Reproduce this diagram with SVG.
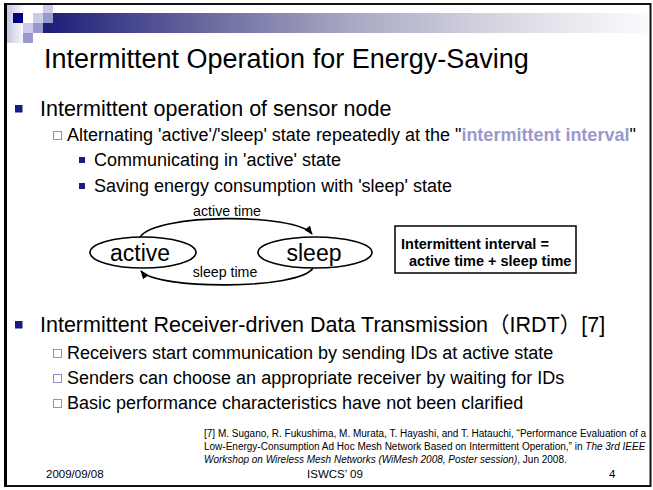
<svg xmlns="http://www.w3.org/2000/svg" width="653" height="490" viewBox="0 0 653 490">
<defs>
<linearGradient id="bar" x1="0" y1="0" x2="1" y2="0">
<stop offset="0" stop-color="#1c1c7a"/>
<stop offset="0.25" stop-color="#64649c"/>
<stop offset="0.5" stop-color="#a6a6c2"/>
<stop offset="0.75" stop-color="#d6d6e2"/>
<stop offset="1" stop-color="#fbfbfd"/>
</linearGradient>
<linearGradient id="side" x1="0" y1="0" x2="1" y2="0">
<stop offset="0" stop-color="#c4c4e0"/>
<stop offset="1" stop-color="#ffffff"/>
</linearGradient>
<marker id="arr" viewBox="0 0 10 8" refX="9" refY="4" markerWidth="9" markerHeight="7" orient="auto" markerUnits="userSpaceOnUse">
<path d="M0,0 L10,4 L0,8 z" fill="#000"/>
</marker>
<style>
text{font-family:"Liberation Sans",Arial,sans-serif;fill:#000}
.t{font-size:27px}
.l1{font-size:21.5px}
.l2{font-size:18px}
.l3{font-size:18px}
.b1{fill:#1a1a80}
.b2{fill:#fff;stroke:#9090c4;stroke-width:1}
.ref{font-size:10px}
.foot{font-size:11.5px}
.ell{fill:none;stroke:#000;stroke-width:1.6}
.arc{fill:none;stroke:#000;stroke-width:1.6}
.lbl{font-size:14.2px}
.big{font-size:23px}
.bx{font-size:14.5px;font-weight:bold}
</style>
</defs>
<rect x="0" y="0" width="653" height="490" fill="#fff"/>
<rect x="5" y="4" width="645.5" height="482" fill="none" stroke="#111" stroke-width="2"/>
<line x1="5.5" y1="3" x2="5.5" y2="487" stroke="#000" stroke-width="3"/>
<g id="header">
<rect x="7" y="5" width="18" height="38" fill="url(#side)"/>
<rect x="43" y="13" width="605" height="20" fill="url(#bar)"/>
<rect x="13" y="13" width="10" height="10" fill="#000080"/>
<rect x="33" y="13" width="10" height="10" fill="#ccccea"/>
<rect x="43" y="5" width="10" height="8" fill="#ccccea"/>
<rect x="43" y="13" width="10" height="10" fill="#9999cc"/>
<rect x="23" y="23" width="10" height="10" fill="#ccccea"/>
<rect x="33" y="23" width="10" height="10" fill="#9999cc"/>
<rect x="23" y="33" width="10" height="10" fill="#9999cc"/>
</g>
<text class="t" x="44" y="68">Intermittent Operation for Energy-Saving</text>
<g id="bullets">
<rect class="b1" x="15" y="105" width="7.5" height="7.5"/>
<text class="l1" x="40" y="116">Intermittent operation of sensor node</text>
<rect class="b2" x="53.5" y="131.5" width="8" height="8"/>
<text class="l2" x="67" y="141">Alternating 'active'/'sleep' state repeatedly at the "<tspan font-weight="bold" fill="#9999cc">intermittent interval</tspan>"</text>
<rect class="b1" x="79" y="157" width="6" height="6"/>
<text class="l3" x="94" y="166">Communicating in 'active' state</text>
<rect class="b1" x="79" y="183" width="6" height="6"/>
<text class="l3" x="94" y="192">Saving energy consumption with 'sleep' state</text>
<rect class="b1" x="15" y="321" width="7.5" height="7.5"/>
<text class="l1" x="40" y="332">Intermittent Receiver-driven Data Transmission<tspan font-family="'Noto Sans CJK JP',sans-serif">（</tspan>IRDT<tspan font-family="'Noto Sans CJK JP',sans-serif">）</tspan>[7]</text>
<rect class="b2" x="53.5" y="349.5" width="8" height="8"/>
<text class="l2" x="67" y="359">Receivers start communication by sending IDs at active state</text>
<rect class="b2" x="53.5" y="374.5" width="8" height="8"/>
<text class="l2" x="67" y="384">Senders can choose an appropriate receiver by waiting for IDs</text>
<rect class="b2" x="53.5" y="399.5" width="8" height="8"/>
<text class="l2" x="67" y="409">Basic performance characteristics have not been clarified</text>
</g>
<g id="connectors">
<path class="arc" d="M140,237 C156,213 296,213 312,234" marker-end="url(#arr)"/>
<path class="arc" d="M313,268 C300,290 156,290 141,271" marker-end="url(#arr)"/>
</g>
<g id="node-active">
<ellipse class="ell" cx="143" cy="252.5" rx="53" ry="15.5"/>
<text class="big" x="140" y="261" text-anchor="middle">active</text>
</g>
<g id="node-sleep">
<ellipse class="ell" cx="315" cy="252.5" rx="57" ry="15.5"/>
<text class="big" x="314" y="261" text-anchor="middle">sleep</text>
</g>
<text class="lbl" x="227" y="216" text-anchor="middle">active time</text>
<text class="lbl" x="225" y="277" text-anchor="middle">sleep time</text>
<g id="box">
<rect x="395" y="226" width="181" height="47" fill="#fff" stroke="#000" stroke-width="1.5"/>
<text class="bx" x="401" y="249">Intermittent interval =</text>
<text class="bx" x="409" y="266">active time + sleep time</text>
</g>
<g id="reference">
<text class="ref" x="204" y="437">[7] M. Sugano, R. Fukushima, M. Murata, T. Hayashi, and T. Hatauchi, “Performance Evaluation of a</text>
<text class="ref" x="204" y="450">Low-Energy-Consumption Ad Hoc Mesh Network Based on Intermittent Operation,” in <tspan font-style="italic">The 3rd IEEE</tspan></text>
<text class="ref" x="204" y="463"><tspan font-style="italic">Workshop on Wireless Mesh Networks (WiMesh 2008, Poster session)</tspan>, Jun 2008.</text>
</g>
<g id="footer">
<text class="foot" x="46" y="478">2009/09/08</text>
<text class="foot" x="335" y="478" text-anchor="middle">ISWCS’ 09</text>
<text class="foot" x="609" y="478">4</text>
</g>
</svg>
